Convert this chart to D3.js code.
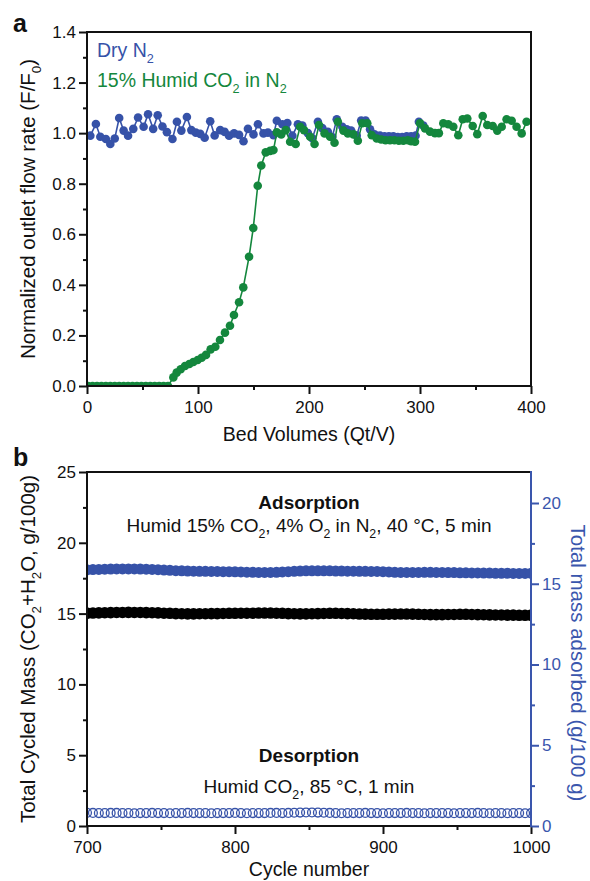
<!DOCTYPE html>
<html>
<head>
    <meta charset="utf-8" />
    <title>Breakthrough and cycling</title>
    <script src="https://d3js.org/d3.v7.min.js"></script>
    <style>
        body { margin: 0; background: #fff; }
        svg text { font-family: "Liberation Sans", Arial, Helvetica, sans-serif; fill: #111; }
    </style>
</head>
<body>
    <div id="the-chart"></div>
    <script>
        // ---- panel a: breakthrough (Bed Volumes vs F/F0) ----
        var dryBV = [3, 8, 12, 17, 21, 25, 29, 33, 37, 41.7, 46, 51, 55, 59.6, 63.7, 68, 72, 77, 81, 85,
            90, 94, 98, 102, 106, 111, 115, 120, 124, 128, 132.5, 137, 141, 145, 150, 154, 159, 163, 168, 171,
            176, 180.5, 185, 190, 194, 199, 203, 208, 212, 217, 221, 225, 230, 234, 238, 243, 247, 251, 255, 259,
            264, 268, 272, 276, 280, 284, 288, 292, 296, 299, 303];
        var dryFlow = [0.99, 1.036, 0.986, 0.977, 0.957, 0.979, 1.06, 1.01, 0.99, 1.017, 1.062, 1.025, 1.075, 1.017, 1.071, 1.026, 1.004, 0.977, 1.045, 1.01,
            1.064, 1.012, 1.002, 0.997, 0.982, 1.047, 0.991, 1.012, 1.005, 0.99, 0.999, 0.993, 0.968, 1.017, 0.995, 1.035, 0.999, 1.002, 0.992, 1.049,
            1.035, 1.04, 0.99, 1.035, 1.03, 1.0, 0.98, 1.045, 1.02, 1.005, 0.985, 1.055, 1.025, 1.015, 1.01, 0.99, 1.05, 1.05, 1.015, 0.995,
            0.99, 0.988, 0.988, 0.988, 0.985, 0.985, 0.988, 0.988, 0.99, 1.045, 1.03];

        var humidBV = [1, 5, 9, 13, 17, 21, 25, 29, 33, 37, 41, 45, 49, 53, 57, 61, 65, 69, 73,
            77.8, 80.8, 84.4, 88.3, 92.2, 95.8, 99.7, 103.3, 107.2, 111.4, 115.6, 119.8, 124.3, 128.8, 132.4, 137, 140.8, 146, 149.8, 153.8,
            157, 161, 165, 168, 171, 175, 179, 183, 188, 192, 195.5, 201, 205, 209, 214, 219, 223, 226, 231, 235,
            240, 244, 248, 252.5, 256.5, 261, 265, 269, 273, 277, 281, 285, 289, 292, 295.5, 300, 304.5, 309, 313.5, 317,
            321, 325.5, 330, 334.5, 338.5, 342.6, 347.5, 351.6, 356.5, 360.6, 365.5, 369.6, 373.6, 378, 382.6, 387, 391.6, 396];
        var humidFlow = [0, 0, 0, 0, 0, 0, 0, 0, 0, 0, 0, 0, 0, 0, 0, 0, 0, 0, 0,
            0.034, 0.053, 0.066, 0.079, 0.087, 0.095, 0.103, 0.112, 0.123, 0.145, 0.155, 0.182, 0.211, 0.238, 0.281, 0.331, 0.39, 0.511, 0.625, 0.792,
            0.872, 0.924, 0.93, 0.933, 1.003, 0.995, 1.012, 0.966, 0.957, 1.025, 1.012, 0.986, 0.957, 1.032, 0.999, 0.986, 0.962, 1.045, 1.01, 0.999,
            0.995, 0.97, 1.039, 1.039, 0.992, 0.979, 0.975, 0.972, 0.972, 0.972, 0.97, 0.97, 0.972, 0.968, 0.966, 1.039, 1.019, 1.006, 1.0, 1.0,
            1.039, 1.035, 1.025, 0.992, 1.055, 1.058, 1.028, 0.996, 1.068, 1.032, 1.028, 1.01, 1.025, 1.055, 1.049, 1.025, 0.999, 1.045];

        var bvTicks = [0, 100, 200, 300, 400], bvMinor = [50, 150, 250, 350];
        var flowTicks = [0, 0.2, 0.4, 0.6, 0.8, 1.0, 1.2, 1.4], flowMinor = [0.1, 0.3, 0.5, 0.7, 0.9, 1.1, 1.3];

        // ---- panel b: cycling 700-1000 ----
        var cycles = [700, 704, 708, 712, 716, 720, 724, 728, 732, 736,
            740, 744, 748, 752, 756, 760, 764, 768, 772, 776,
            780, 784, 788, 792, 796, 800, 804, 808, 812, 816,
            820, 824, 828, 832, 836, 840, 844, 848, 852, 856,
            860, 864, 868, 872, 876, 880, 884, 888, 892, 896,
            900, 904, 908, 912, 916, 920, 924, 928, 932, 936,
            940, 944, 948, 952, 956, 960, 964, 968, 972, 976,
            980, 984, 988, 992, 996, 1000];
        var cycledMass = [15.02, 15.04, 15.05, 15.06, 15.07, 15.08, 15.08, 15.09, 15.08, 15.08,
            15.07, 15.06, 15.05, 15.03, 15.02, 15.00, 14.99, 14.98, 14.98, 14.99,
            14.99, 15.00, 15.00, 15.01, 15.02, 15.02, 15.03, 15.03, 15.03, 15.04,
            15.04, 15.04, 15.03, 15.02, 15.00, 14.99, 14.98, 14.98, 14.99, 15.00,
            15.01, 15.02, 15.02, 15.01, 15.00, 14.99, 14.97, 14.96, 14.95, 14.95,
            14.95, 14.96, 14.96, 14.97, 14.97, 14.96, 14.95, 14.94, 14.93, 14.93,
            14.93, 14.94, 14.94, 14.95, 14.95, 14.94, 14.93, 14.92, 14.91, 14.90,
            14.90, 14.89, 14.89, 14.88, 14.88, 14.88];
        var adsorbedTotal = [15.86, 15.88, 15.89, 15.9, 15.91, 15.92, 15.92, 15.92, 15.92, 15.91,
            15.9, 15.89, 15.87, 15.85, 15.83, 15.81, 15.8, 15.79, 15.78, 15.77,
            15.77, 15.76, 15.76, 15.75, 15.75, 15.74, 15.73, 15.72, 15.71, 15.7,
            15.7, 15.7, 15.71, 15.73, 15.75, 15.77, 15.79, 15.8, 15.8, 15.8,
            15.8, 15.8, 15.79, 15.79, 15.78, 15.78, 15.77, 15.77, 15.76, 15.76,
            15.75, 15.73, 15.71, 15.7, 15.7, 15.7, 15.7, 15.71, 15.71, 15.7,
            15.7, 15.69, 15.69, 15.68, 15.68, 15.67, 15.67, 15.66, 15.66, 15.65,
            15.65, 15.65, 15.64, 15.64, 15.64, 15.64];
        var desorbedTotal = [0.82, 0.81, 0.8, 0.8, 0.81, 0.81, 0.8, 0.8, 0.79, 0.8,
            0.8, 0.81, 0.8, 0.8, 0.79, 0.8, 0.8, 0.81, 0.8, 0.8,
            0.8, 0.79, 0.8, 0.8, 0.8, 0.81, 0.8, 0.79, 0.8, 0.8,
            0.8, 0.81, 0.81, 0.8, 0.81, 0.82, 0.83, 0.84, 0.84, 0.83,
            0.82, 0.81, 0.8, 0.79, 0.8, 0.8, 0.8, 0.81, 0.8, 0.8,
            0.79, 0.8, 0.8, 0.8, 0.81, 0.8, 0.8, 0.79, 0.8, 0.8,
            0.8, 0.8, 0.79, 0.8, 0.8, 0.8, 0.81, 0.8, 0.79, 0.8,
            0.8, 0.79, 0.8, 0.8, 0.79, 0.8];

        var cycleTicks = [700, 800, 900, 1000], cycleMinor = [750, 850, 950];
        var massTicks = [0, 5, 10, 15, 20, 25], massMinor = [2.5, 7.5, 12.5, 17.5, 22.5];
        var totalTicks = [0, 5, 10, 15, 20], totalMinor = [2.5, 7.5, 12.5, 17.5];

        var blue = "#3652a8", green = "#14873d", axisBlue = "#3a56ad";

        var svg = d3.select("#the-chart").append("svg")
            .attr("width", 590)
            .attr("height", 881);

        // writes "CO_{2}" style strings with small lowered subscripts
        function richText(sel, str, fs) {
            var parts = str.split(/(_\{[^}]*\})/), down = false;
            parts.forEach(function (p) {
                if (!p) return;
                if (p.indexOf("_{") === 0) {
                    sel.append("tspan").attr("dy", fs * 0.3).style("font-size", (fs * 0.65) + "px").text(p.slice(2, -1));
                    down = true;
                } else {
                    var t = sel.append("tspan").text(p);
                    if (down) { t.attr("dy", -fs * 0.3); down = false; }
                }
            });
            return sel;
        }

        function styleAxis(g, color, fs) {
            g.select(".domain").remove();
            g.selectAll(".tick line").attr("stroke", color).attr("stroke-width", 2);
            g.selectAll(".tick text").style("font-size", fs + "px").style("fill", color);
        }

        var L = 87, R = 531;

        // ======== panel a ========
        var ya0 = 32, ya1 = 386;
        var xa = d3.scaleLinear().domain([0, 400]).range([L, R]),
            ya = d3.scaleLinear().domain([0, 1.4]).range([ya1, ya0]);

        svg.append("clipPath").attr("id", "clip-a")
            .append("rect").attr("x", L).attr("y", ya0).attr("width", R - L).attr("height", ya1 - ya0);

        var gA = svg.append("g").attr("clip-path", "url(#clip-a)");

        function drawSeries(xs, ys, color) {
            var pts = xs.map(function (d, i) { return [d, ys[i]]; });
            gA.append("path")
                .datum(pts)
                .attr("fill", "none")
                .attr("stroke", color)
                .attr("stroke-width", 1.6)
                .attr("d", d3.line().x(function (d) { return xa(d[0]); }).y(function (d) { return ya(d[1]); }));
            gA.selectAll(null)
                .data(pts)
                .enter()
                .append("circle")
                .attr("cx", function (d) { return xa(d[0]); })
                .attr("cy", function (d) { return ya(d[1]); })
                .attr("r", 4.3)
                .attr("fill", color);
        }
        drawSeries(dryBV, dryFlow, blue);
        drawSeries(humidBV, humidFlow, green);

        var axA = svg.append("g").attr("transform", "translate(0," + ya1 + ")")
            .call(d3.axisBottom(xa).tickValues(bvTicks).tickSize(8).tickPadding(7).tickFormat(d3.format("d")));
        styleAxis(axA, "#111", 17);
        var axAm = svg.append("g").attr("transform", "translate(0," + ya1 + ")")
            .call(d3.axisBottom(xa).tickValues(bvMinor).tickSize(4).tickFormat(""));
        styleAxis(axAm, "#111", 17);
        var ayA = svg.append("g").attr("transform", "translate(" + L + ",0)")
            .call(d3.axisLeft(ya).tickValues(flowTicks).tickSize(8).tickPadding(3).tickFormat(d3.format(".1f")));
        styleAxis(ayA, "#111", 17);
        var ayAm = svg.append("g").attr("transform", "translate(" + L + ",0)")
            .call(d3.axisLeft(ya).tickValues(flowMinor).tickSize(4).tickFormat(""));
        styleAxis(ayAm, "#111", 17);

        svg.append("rect").attr("x", L).attr("y", ya0).attr("width", R - L).attr("height", ya1 - ya0)
            .attr("fill", "none").attr("stroke", "#111").attr("stroke-width", 2);

        svg.append("text").attr("x", 13).attr("y", 32).style("font-size", "25px").style("font-weight", "bold").text("a");

        richText(svg.append("text").attr("x", 97).attr("y", 57).style("font-size", "19.5px").style("fill", blue), "Dry N_{2}", 19.5)
            .selectAll("tspan").style("fill", blue);
        richText(svg.append("text").attr("x", 97).attr("y", 87).style("font-size", "19.5px"), "15% Humid CO_{2} in N_{2}", 19.5)
            .selectAll("tspan").style("fill", green);

        svg.append("text").attr("x", (L + R) / 2).attr("y", 441).attr("text-anchor", "middle")
            .style("font-size", "19.5px").text("Bed Volumes (Qt/V)");
        richText(svg.append("text").attr("transform", "translate(35," + ((ya0 + ya1) / 2) + ") rotate(-90)")
            .attr("text-anchor", "middle").style("font-size", "20.5px"), "Normalized outlet flow rate (F/F_{0})", 20.5);

        // ======== panel b ========
        var yb0 = 472, yb1 = 826;
        var xb = d3.scaleLinear().domain([700, 1000]).range([L, R]),
            ybL = d3.scaleLinear().domain([0, 25]).range([yb1, yb0]),
            ybR = d3.scaleLinear().domain([0, 21.92]).range([yb1, yb0]);

        svg.append("clipPath").attr("id", "clip-b")
            .append("rect").attr("x", L + 1).attr("y", yb0).attr("width", R - L - 2).attr("height", yb1 - yb0);
        var gB = svg.append("g").attr("clip-path", "url(#clip-b)");

        gB.selectAll("circle.ads-total")
            .data(cycles)
            .enter()
            .append("circle")
            .attr("class", "ads-total")
            .attr("cx", function (d) { return xb(d); })
            .attr("cy", function (d, i) { return ybR(adsorbedTotal[i]); })
            .attr("r", 5.5)
            .attr("fill", blue);

        gB.selectAll("circle.cycled")
            .data(cycles)
            .enter()
            .append("circle")
            .attr("class", "cycled")
            .attr("cx", function (d) { return xb(d); })
            .attr("cy", function (d, i) { return ybL(cycledMass[i]); })
            .attr("r", 5.8)
            .attr("fill", "#000");

        gB.selectAll("circle.des-total")
            .data(cycles)
            .enter()
            .append("circle")
            .attr("class", "des-total")
            .attr("cx", function (d) { return xb(d); })
            .attr("cy", function (d, i) { return ybR(desorbedTotal[i]); })
            .attr("r", 4.4)
            .attr("fill", "none")
            .attr("stroke", blue)
            .attr("stroke-width", 1.3);

        var axB = svg.append("g").attr("transform", "translate(0," + yb1 + ")")
            .call(d3.axisBottom(xb).tickValues(cycleTicks).tickSize(8).tickPadding(7).tickFormat(d3.format("d")));
        styleAxis(axB, "#111", 17);
        var axBm = svg.append("g").attr("transform", "translate(0," + yb1 + ")")
            .call(d3.axisBottom(xb).tickValues(cycleMinor).tickSize(4).tickFormat(""));
        styleAxis(axBm, "#111", 17);
        var ayB = svg.append("g").attr("transform", "translate(" + L + ",0)")
            .call(d3.axisLeft(ybL).tickValues(massTicks).tickSize(8).tickPadding(3).tickFormat(d3.format("d")));
        styleAxis(ayB, "#111", 17);
        var ayBm = svg.append("g").attr("transform", "translate(" + L + ",0)")
            .call(d3.axisLeft(ybL).tickValues(massMinor).tickSize(4).tickFormat(""));
        styleAxis(ayBm, "#111", 17);
        var ayR = svg.append("g").attr("transform", "translate(" + R + ",0)")
            .call(d3.axisRight(ybR).tickValues(totalTicks).tickSize(8).tickPadding(3).tickFormat(d3.format("d")));
        styleAxis(ayR, axisBlue, 17);
        var ayRm = svg.append("g").attr("transform", "translate(" + R + ",0)")
            .call(d3.axisRight(ybR).tickValues(totalMinor).tickSize(4).tickFormat(""));
        styleAxis(ayRm, axisBlue, 17);

        // frame: black left/top/bottom, blue right
        svg.append("path").attr("d", "M" + R + "," + yb0 + "H" + L + "V" + yb1 + "H" + R)
            .attr("fill", "none").attr("stroke", "#111").attr("stroke-width", 2);
        svg.append("line").attr("x1", R).attr("x2", R).attr("y1", yb0 - 1).attr("y2", yb1 + 1)
            .attr("stroke", axisBlue).attr("stroke-width", 2);

        svg.append("text").attr("x", 13).attr("y", 466).style("font-size", "25px").style("font-weight", "bold").text("b");

        var cx = (L + R) / 2;
        svg.append("text").attr("x", cx).attr("y", 509).attr("text-anchor", "middle")
            .style("font-size", "19px").style("font-weight", "bold").text("Adsorption");
        richText(svg.append("text").attr("x", cx).attr("y", 532).attr("text-anchor", "middle").style("font-size", "19px"),
            "Humid 15% CO_{2}, 4% O_{2} in N_{2}, 40 °C, 5 min", 19);
        svg.append("text").attr("x", cx).attr("y", 762).attr("text-anchor", "middle")
            .style("font-size", "19px").style("font-weight", "bold").text("Desorption");
        richText(svg.append("text").attr("x", cx).attr("y", 793).attr("text-anchor", "middle").style("font-size", "19px"),
            "Humid CO_{2}, 85 °C, 1 min", 19);

        svg.append("text").attr("x", cx).attr("y", 876).attr("text-anchor", "middle")
            .style("font-size", "19.5px").text("Cycle number");
        richText(svg.append("text").attr("transform", "translate(35," + ((yb0 + yb1) / 2) + ") rotate(-90)")
            .attr("text-anchor", "middle").style("font-size", "20.5px"), "Total Cycled Mass (CO_{2}+H_{2}O, g/100g)", 20.5);
        svg.append("text").attr("transform", "translate(571,663) rotate(90)")
            .attr("text-anchor", "middle").style("font-size", "20.5px").style("fill", axisBlue)
            .text("Total mass adsorbed (g/100 g)");
    </script>
</body>
</html>
